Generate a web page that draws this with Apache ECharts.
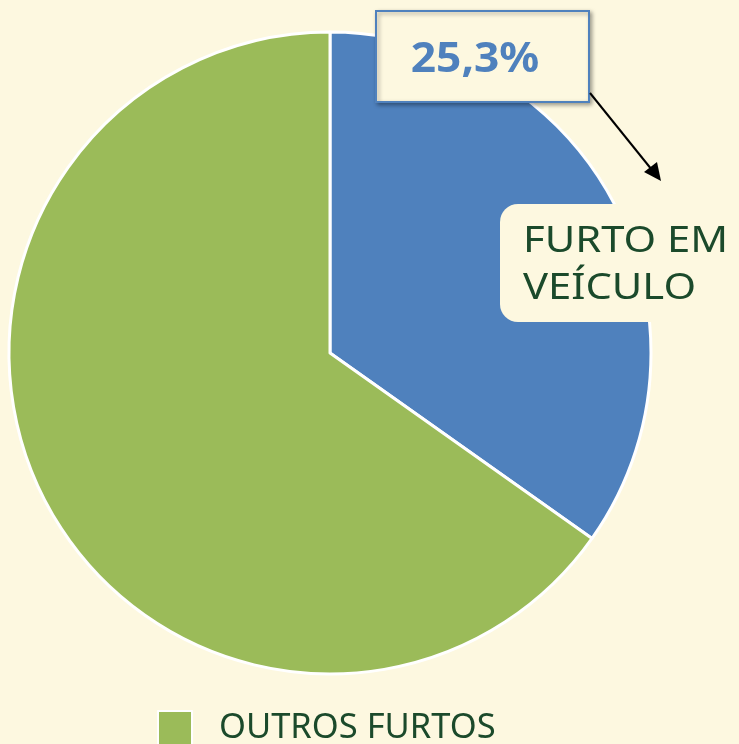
<!DOCTYPE html>
<html>
<head>
<meta charset="utf-8">
<script src="https://cdn.jsdelivr.net/npm/echarts@6/dist/echarts.min.js"></script>
<style>
html,body{margin:0;padding:0;background:#FDF8E0;}
#chart{width:739px;height:744px;}
</style>
</head>
<body>
<div id="chart"></div>
<script>
// Data (slice sizes follow the drawn geometry)
const categories = ['FURTO EM VEÍCULO', 'OUTROS FURTOS'];
const values = [34.8, 65.2];
const colors = ['#4F81BD', '#9BBB59'];
const calloutValue = '25,3%';
const calloutName = 'FURTO EM\nVEÍCULO';
const legendItems = ['OUTROS FURTOS'];

const chart = echarts.init(document.getElementById('chart'));
const textColor = '#1B4A2B';
const font = '"Noto Sans", sans-serif';

chart.setOption({
  backgroundColor: '#FDF8E0',
  animation: false,
  legend: {
    data: legendItems,
    left: 157,
    top: 710,
    padding: 0,
    icon: 'rect',
    itemWidth: 34,
    itemHeight: 34,
    itemGap: 10,
    textStyle: { color: textColor, fontSize: 34.5, fontFamily: font, padding: [10, 0, 0, 22] }
  },
  series: [{
    type: 'pie',
    center: [330, 353],
    radius: [0, 321],
    startAngle: 90,
    clockwise: true,
    z: 1,
    label: { show: false },
    labelLine: { show: false },
    emphasis: { disabled: true },
    itemStyle: { borderColor: '#ffffff', borderWidth: 3 },
    data: categories.map((c, i) => ({ name: c, value: values[i], itemStyle: { color: colors[i] } }))
  }],
  graphic: {
    elements: [
      {
        type: 'rect', z: 100,
        shape: { x: 500, y: 204, width: 260, height: 118, r: 18 },
        style: { fill: '#FDF8E0' }
      },
      {
        type: 'text', z: 101,
        x: 523, y: 218, scaleX: 1.16,
        style: { text: calloutName, fill: textColor, font: '36px ' + font, lineHeight: 47 }
      },
      {
        type: 'rect', z: 100,
        shape: { x: 376, y: 11, width: 213, height: 91 },
        style: { fill: '#FDF8E0', stroke: '#4F81BD', lineWidth: 2, shadowColor: 'rgba(0,0,0,0.35)', shadowBlur: 4, shadowOffsetX: 2, shadowOffsetY: 2 }
      },
      {
        type: 'text', z: 101,
        x: 475, y: 60, scaleX: 1.08,
        style: { text: calloutValue, fill: '#4F81BD', font: 'bold 41px ' + font, align: 'center', verticalAlign: 'middle' }
      },
      {
        type: 'line', z: 101,
        shape: { x1: 590, y1: 93, x2: 652, y2: 170 },
        style: { stroke: '#000', lineWidth: 2 }
      },
      {
        type: 'polygon', z: 101,
        shape: { points: [[661, 181], [644, 172], [657, 162]] },
        style: { fill: '#000' }
      }
    ]
  }
});
</script>
</body>
</html>
